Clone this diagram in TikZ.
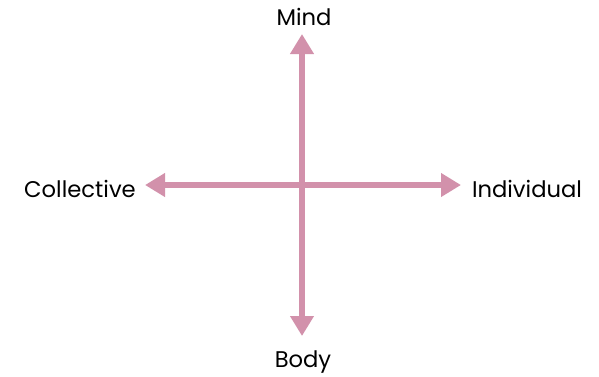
\documentclass[tikz,border=0pt]{standalone}
\usepackage{fontspec}
\setmainfont{Poppins}
\usetikzlibrary{arrows.meta,positioning}
\definecolor{axispink}{HTML}{D291AB}

\begin{document}
\begin{tikzpicture}[
  x=0.75pt, y=-0.75pt,
  font=\fontsize{17}{19}\selectfont,
  label/.style={inner sep=0pt},
  axis/.style={-{Triangle[length=15pt, width=17pt]}, line width=4.5pt, draw=axispink}
]
\useasboundingbox (0,0) rectangle (599,376);
\coordinate (c) at (302,185);
\coordinate (up) at (302,34);
\coordinate (down) at (302,336);
\coordinate (left) at (145,185);
\coordinate (right) at (461,185);
\node[label] (mind) at (304,17) {Mind};
\node[label] (body) at (303,362) {Body};
\node[label] (coll) at (80,189) {Collective};
\node[label] (indiv) at (527,189) {Individual};
\draw[axis] (c) -- (up);
\draw[axis] (c) -- (down);
\draw[axis] (c) -- (left);
\draw[axis] (c) -- (right);
\end{tikzpicture}
\end{document}
